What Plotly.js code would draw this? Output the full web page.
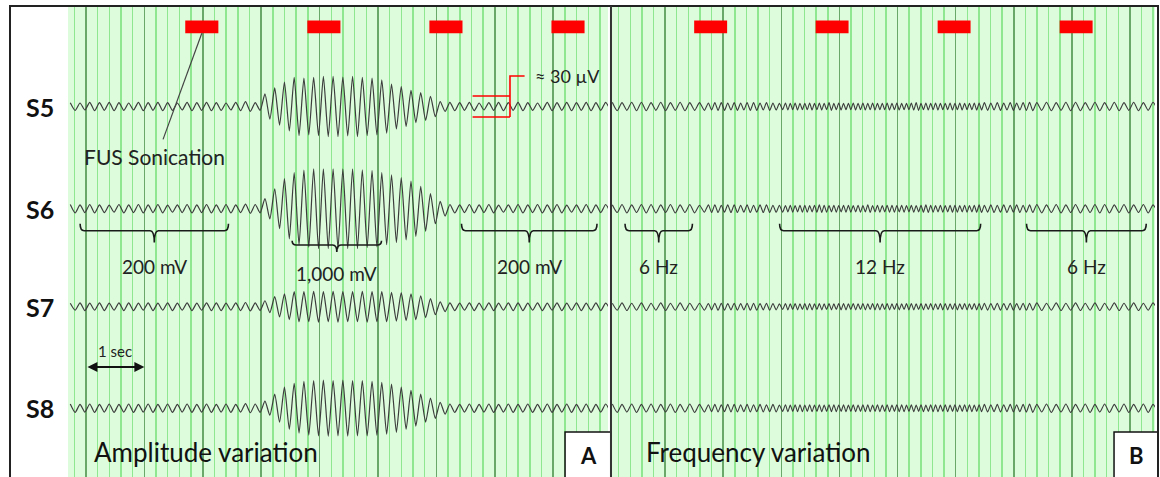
<!DOCTYPE html>
<html><head><meta charset="utf-8">
<script src="https://cdn.plot.ly/plotly-3.0.1.min.js"></script>
<style>html,body{margin:0;padding:0;background:#fff}#chart{width:1160px;height:477px}</style>
</head><body><div id="chart"></div>
<script>
// ---------------- data ----------------
const channels = ['S5', 'S6', 'S7', 'S8'];
const channelOffset = [0, -146, -286, -431];   // stacked baselines (µV)

// Panel A – amplitude variation, 6 Hz rhythm: peak-to-peak amplitude per cycle (µV)
const freqA = 6;
const startA = -0.31;
const ampA_S5 = [11,10,12,11,12,11,10,12,11,12,11,10,12,11,12,11,10,12,14,11,
  36,53,70,83,81,83,86,86,84,86,83,81,76,64,57,46,40,29,14,
  12,11,12,10,11,12,11,12,11,10,12,11,12,11,12,11,12];
const ampA_S6 = [12,11,12,11,10,12,11,12,11,12,10,11,12,11,12,11,12,11,13,12,
  29,57,86,103,110,114,114,114,114,114,111,109,103,97,89,79,64,43,21,
  12,11,12,11,12,10,11,12,11,12,11,12,10,11,12,11,12];
const ampA_S7 = [10,11,10,11,10,11,11,10,11,10,11,10,11,10,11,11,10,11,12,11,
  17,29,37,43,43,44,43,44,43,43,44,43,43,41,40,37,31,23,14,
  11,10,11,10,11,10,11,11,10,11,10,11,10,11,10,11,10];
const ampA_S8 = [12,11,12,11,12,11,12,11,12,11,12,11,12,11,12,11,12,11,13,12,
  20,40,60,71,77,79,80,79,80,79,79,77,74,69,60,51,40,29,17,
  12,11,12,11,12,11,12,11,12,11,12,11,12,11,12,11,12];

// Panel B – frequency variation: frequency segments (s, Hz) and amplitude per cycle (µV)
const segStartB = [-0.95, 0.59, 1.97, 5.41, 6.28];
const segFreqB = [6, 9, 12, 9, 6];
const ampB_S5 = [12,11,12,12,11,12,11,12,11, 11,10,11,11,10,11,10,11,11,10,11,10,
  9,10,9,10,9,9,10,9,10,9,11,9,10,9,9,10,9,10,9,10,9,9,10,9,10,9,9,10,11,9,10,9,10,9,9,10,9,10,9,9,10,
  10,11,10,11,10,11,10,11, 12,11,12,11,12,12,11,12,11,12,11,12,11,12];
const ampB_S6 = [11,12,11,12,12,11,12,11,12, 10,11,11,10,11,11,10,11,10,11,11,10,
  10,9,10,9,10,10,9,10,11,10,9,10,9,10,10,9,10,9,11,9,10,9,10,10,9,10,9,10,9,10,11,10,9,10,9,10,10,9,10,9,10,
  11,10,11,10,11,10,11,10, 11,12,11,12,11,12,11,12,12,11,12,11,12,11];
const ampB_S7 = [10,11,10,11,10,11,10,11,10, 10,9,10,10,9,10,9,10,10,9,10,9,
  8,9,8,9,8,9,9,8,9,8,9,8,9,9,8,9,8,9,8,9,9,8,9,8,9,8,9,9,8,9,8,9,8,9,9,8,9,8,9,8,9,
  9,10,9,10,9,10,9,10, 10,11,10,11,10,11,10,11,10,11,10,11,10,11];
const ampB_S8 = [12,11,12,11,12,11,12,11,12, 11,10,11,10,11,11,10,11,10,11,10,11,
  9,10,9,10,10,9,10,9,10,9,10,10,9,10,9,10,9,10,10,9,10,9,10,9,10,10,9,10,9,10,9,10,10,9,10,9,10,9,10,10,9,
  10,11,10,11,10,11,10,11, 12,11,12,11,12,11,12,11,12,11,12,11,12,11];

// FUS sonication markers (onset, s) and duration (s)
const sonicationA = [1.70, 3.79, 5.88, 7.97];
const sonicationB = [0.50, 2.59, 4.69, 6.79];
const sonicationDur = 0.567;

// brace annotations (start, end in s)
const braceLabelsA = ['200 mV', '1,000 mV', '200 mV'];
const braceStartA = [-0.10, 3.53, 6.43];
const braceEndA = [2.44, 5.06, 8.75];
const braceLabelsB = ['6 Hz', '12 Hz', '6 Hz'];
const braceStartB = [-0.69, 1.97, 6.22];
const braceEndB = [0.47, 5.43, 8.28];

// ---------------- build ----------------
const FONT = 'Lato, "Open Sans", "DejaVu Sans", sans-serif';
const WAVE_COLOR = '#3c3c3c';

function waveA(amps, off) {
  const T = 1 / freqA, xs = [], ys = [];
  amps.forEach((a, k) => {
    const t = startA + k * T;
    xs.push(t + T / 4, t + 3 * T / 4);
    ys.push(off + a / 2, off - a / 2);
  });
  return {xs, ys};
}
function waveB(amps, off) {
  const xs = [], ys = [];
  let t = segStartB[0];
  for (let k = 0; k < amps.length; k++) {
    let i = 0;
    for (let j = 0; j < segStartB.length; j++) if (segStartB[j] <= t) i = j;
    const T = 1 / segFreqB[i], a = amps[k];
    xs.push(t + T / 4, t + 3 * T / 4);
    ys.push(off + a / 2, off - a / 2);
    t += T;
  }
  return {xs, ys};
}

const traces = [];
const ampsA = [ampA_S5, ampA_S6, ampA_S7, ampA_S8];
const ampsB = [ampB_S5, ampB_S6, ampB_S7, ampB_S8];
channels.forEach((c, i) => {
  const a = waveA(ampsA[i], channelOffset[i]);
  traces.push({type: 'scatter', mode: 'lines', x: a.xs, y: a.ys, xaxis: 'x', yaxis: 'y',
    line: {color: WAVE_COLOR, width: 1.2, shape: 'spline', smoothing: 0.6}, hoverinfo: 'skip', name: c + ' A'});
  const b = waveB(ampsB[i], channelOffset[i]);
  traces.push({type: 'scatter', mode: 'lines', x: b.xs, y: b.ys, xaxis: 'x2', yaxis: 'y',
    line: {color: WAVE_COLOR, width: 1.1, shape: 'spline', smoothing: 0.6}, hoverinfo: 'skip', name: c + ' B'});
});

// sonication bars
const BAR_BASE = 104.6, BAR_H = 18.3;
[[sonicationA, 'x'], [sonicationB, 'x2']].forEach(([arr, ax]) => {
  traces.push({type: 'bar', x: arr.map(t => t + sonicationDur / 2), y: arr.map(() => BAR_H),
    base: arr.map(() => BAR_BASE), width: sonicationDur, xaxis: ax, yaxis: 'y',
    marker: {color: '#ff0000', line: {width: 0}}, hoverinfo: 'skip', showlegend: false});
});

const shapes = [];
const annotations = [];
const ann = (o) => annotations.push(Object.assign({showarrow: false, xanchor: 'center', yanchor: 'middle'}, o));

function brace(x0, x1, yl, h, s, xref) {
  const xm = (x0 + x1) / 2, dx = 0.07;
  const p = `M ${x0},${yl + h} Q ${x0},${yl} ${x0 + dx},${yl} L ${xm - dx},${yl} Q ${xm},${yl} ${xm},${yl - s} ` +
            `Q ${xm},${yl} ${xm + dx},${yl} L ${x1 - dx},${yl} Q ${x1},${yl} ${x1},${yl + h}`;
  shapes.push({type: 'path', path: p, xref, yref: 'y', line: {color: '#1a1a1a', width: 1.6}});
}
const braceGeomA = [[-177.4, 10, 17, -228], [-197.9, 6, 10, -238], [-177.4, 10, 17, -228]];
braceLabelsA.forEach((lab, i) => {
  const g = braceGeomA[i];
  brace(braceStartA[i], braceEndA[i], g[0], g[1], g[2], 'x');
  ann({x: (braceStartA[i] + braceEndA[i]) / 2, y: g[3], xref: 'x', yref: 'y', text: lab,
    font: {family: FONT, size: 19, color: '#222'}});
});
braceLabelsB.forEach((lab, i) => {
  brace(braceStartB[i], braceEndB[i], -177.4, 10, 17, 'x2');
  ann({x: (braceStartB[i] + braceEndB[i]) / 2, y: -228, xref: 'x2', yref: 'y', text: lab,
    font: {family: FONT, size: 19, color: '#222'}});
});

// channel labels
channels.forEach((c, i) => {
  ann({x: 0.0125, y: channelOffset[i], xref: 'paper', yref: 'y', text: '<b>' + c + '</b>',
    xanchor: 'left', font: {family: FONT, size: 25, color: '#111'}});
});

// FUS sonication leader
shapes.push({type: 'line', xref: 'x', yref: 'y', x0: sonicationA[0] + sonicationDur / 2, y0: BAR_BASE,
  x1: 1.32, y1: -47, line: {color: '#444', width: 1.2}});
ann({x: 1.17, y: -71, xref: 'x', yref: 'y', text: 'FUS Sonication',
  font: {family: FONT, size: 21, color: '#222'}});

// ≈ 30 µV red scale bracket
const RED = '#ff0000';
shapes.push({type: 'line', xref: 'x', yref: 'y', x0: 6.62, x1: 7.26, y0: 15, y1: 15, line: {color: RED, width: 1.6}});
shapes.push({type: 'line', xref: 'x', yref: 'y', x0: 6.62, x1: 7.26, y0: -15, y1: -15, line: {color: RED, width: 1.6}});
shapes.push({type: 'path', xref: 'x', yref: 'y', path: 'M 7.26,-15 L 7.26,43.6 L 7.51,43.6', line: {color: RED, width: 1.6}});
ann({x: 7.66, y: 43.6, xref: 'x', yref: 'y', text: '≈ 30 µV', xanchor: 'left',
  font: {family: FONT, size: 18, color: '#222'}});

// 1 sec arrow
annotations.push({x: 1, y: -372, ax: 0, ay: -372, xref: 'x', yref: 'y', axref: 'x', ayref: 'y', text: '',
  showarrow: true, arrowhead: 2, startarrowhead: 2, arrowside: 'end+start', arrowsize: 1, startarrowsize: 1,
  arrowwidth: 2, arrowcolor: '#111'});
ann({x: 0.5, y: -349, xref: 'x', yref: 'y', text: '1 sec', font: {family: FONT, size: 15, color: '#222'}});

// panel titles
ann({x: 0.0715, y: 0.053, xref: 'paper', yref: 'paper', text: 'Amplitude variation', xanchor: 'left',
  font: {family: FONT, size: 26, color: '#111'}});
ann({x: 0.5523, y: 0.053, xref: 'paper', yref: 'paper', text: 'Frequency variation', xanchor: 'left',
  font: {family: FONT, size: 26, color: '#111'}});

// label boxes
shapes.push({type: 'rect', xref: 'paper', yref: 'paper', x0: 0.4835, x1: 0.5235, y0: -0.05, y1: 0.0955,
  fillcolor: '#fff', line: {color: '#111', width: 1.5}});
shapes.push({type: 'rect', xref: 'paper', yref: 'paper', x0: 0.9617, x1: 1.0, y0: -0.05, y1: 0.0955,
  fillcolor: '#fff', line: {color: '#111', width: 1.5}});
ann({x: 0.5035, y: 0.045, xref: 'paper', yref: 'paper', text: '<b>A</b>', font: {family: FONT, size: 22, color: '#111'}});
ann({x: 0.981, y: 0.045, xref: 'paper', yref: 'paper', text: '<b>B</b>', font: {family: FONT, size: 22, color: '#111'}});

// frame
shapes.push({type: 'path', xref: 'paper', yref: 'paper', path: 'M 0,-0.05 L 0,1 L 1,1 L 1,-0.05',
  line: {color: '#222', width: 2}});
shapes.push({type: 'line', xref: 'paper', yref: 'paper', x0: 0.5235, x1: 0.5235, y0: -0.05, y1: 1,
  line: {color: '#333', width: 2}});

// minor grid positions: every 0.2 s, skipping whole seconds
function minorVals(range) {
  const v = [];
  for (let k = Math.ceil(range[0] * 5); k <= Math.floor(range[1] * 5); k++) if (k % 5 !== 0) v.push(k / 5);
  return v;
}
const gridAxis = (domain, range) => ({
  domain, range, anchor: 'y', showticklabels: false, ticks: '', zeroline: false, showline: false,
  showgrid: true, tickmode: 'linear', tick0: 0, dtick: 1, gridcolor: '#6aa86a', gridwidth: 1.6,
  minor: {tickmode: 'array', tickvals: minorVals(range), showgrid: true, gridcolor: '#8fe88f', gridwidth: 1.5, ticks: ''},
  fixedrange: true
});

const layout = {
  width: 1160, height: 477,
  margin: {l: 10, r: 2, t: 6, b: 0, pad: 0},
  paper_bgcolor: '#ffffff', plot_bgcolor: '#dcfcdc',
  showlegend: false, barmode: 'overlay',
  xaxis: gridAxis([0.0505, 0.5209], [-0.308, 8.938]),
  xaxis2: gridAxis([0.5244, 0.9974], [-0.914, 8.431]),
  yaxis: {domain: [0, 1], range: [-529.3, 143.6], showgrid: false, zeroline: false, showticklabels: false,
    ticks: '', showline: false, fixedrange: true},
  shapes, annotations
};

Plotly.newPlot('chart', traces, layout, {staticPlot: true, displayModeBar: false});
</script>
</body></html>
